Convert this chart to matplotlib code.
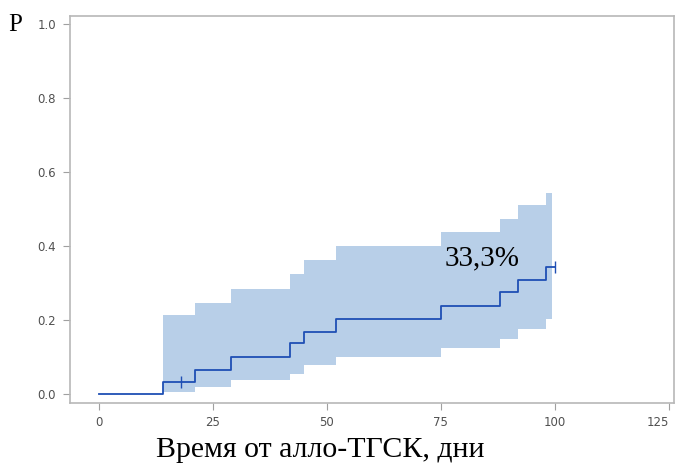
import matplotlib
matplotlib.use('Agg')
from matplotlib import pyplot as plt

# cumulative incidence estimate (step function)
days = [0, 14, 21, 29, 42, 45, 52, 75, 88, 92, 98, 100]
incidence = [0, 0.033, 0.067, 0.100, 0.138, 0.170, 0.205, 0.240, 0.276, 0.310, 0.344, 0.344]

# confidence band
band_days = [14, 21, 29, 42, 45, 52, 75, 88, 92, 98, 99.4]
band_low = [0.007, 0.020, 0.038, 0.056, 0.079, 0.100, 0.125, 0.150, 0.178, 0.203, 0.203]
band_high = [0.215, 0.247, 0.285, 0.325, 0.363, 0.401, 0.438, 0.474, 0.512, 0.543, 0.543]

# censored observations
cens_days = [18, 100]
cens_vals = [0.033, 0.344]

xticks = [0, 25, 50, 75, 100, 125]
yticks = [0.0, 0.2, 0.4, 0.6, 0.8, 1.0]

fig = plt.figure(figsize=(6.76, 4.63), dpi=100)
ax = fig.add_axes([70 / 676, 60 / 463, 604 / 676, 387 / 463])

ax.fill_between(band_days, band_low, band_high, step='post',
                color='#b8cfe8', linewidth=0)
ax.step(days, incidence, where='post', color='#1f4fb4', linewidth=1.3)
ax.plot(cens_days, cens_vals, linestyle='none', marker='|',
        markersize=8, color='#1f4fb4', markeredgewidth=1)

ax.set_xlim(-6.3, 126.1)
ax.set_ylim(-0.023, 1.022)
ax.set_xticks(xticks)
ax.set_yticks(yticks)
ax.set_xticklabels([str(v) for v in xticks])
ax.set_yticklabels(['%.1f' % v for v in yticks])

tick_font = ['Liberation Sans Narrow', 'DejaVu Sans']
for lbl in ax.get_xticklabels() + ax.get_yticklabels():
    lbl.set_family(tick_font)
    lbl.set_fontsize(8.5)
    lbl.set_color('#505050')
# last label sits at the very edge of the figure, nudge it inside
ax.get_xticklabels()[-1].set_horizontalalignment('right')
ax.get_xticklabels()[-1].set_x(127.5)
ax.tick_params(axis='both', direction='out', length=5, width=0.8,
               color='#a0a0a0')
ax.tick_params(axis='x', pad=4)
ax.tick_params(axis='y', pad=5)
for sp in ax.spines.values():
    sp.set_color('#b8b8b8')
    sp.set_linewidth(1.2)

serif = ['Liberation Serif', 'DejaVu Serif']
ax.text(75.8, 0.368, '33,3%', family=serif, fontsize=21, va='center', ha='left')
fig.text(15 / 676, 1 - 25 / 463, 'P', family=serif, fontsize=18,
         ha='center', va='center')
fig.text(320 / 676, 1 - 450 / 463, 'Время от алло-ТГСК, дни', family=serif,
         fontsize=21.5, ha='center', va='center')

fig.savefig('out.png', dpi=100)
